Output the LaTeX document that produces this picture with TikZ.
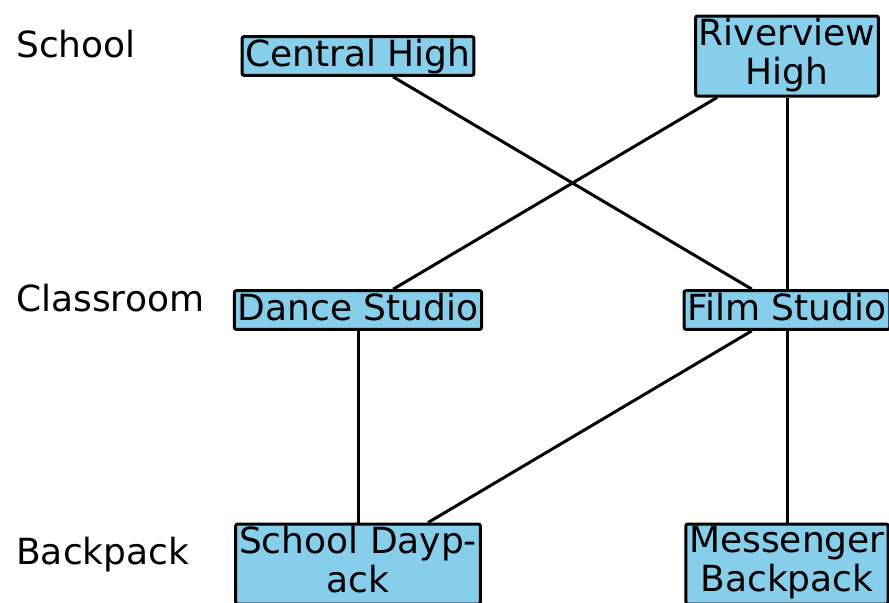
\documentclass[tikz,border=0pt]{standalone}
\usepackage{fontspec}
\setmainfont{DejaVu Sans}
\definecolor{skyblue}{HTML}{87CEEB}
\newcommand\boxstrut{\rule[-7pt]{0pt}{29pt}}
\begin{document}
\begin{tikzpicture}[x=.75pt,y=-.75pt, every node/.style={font=\fontsize{27}{29.25}\selectfont},
 box/.style={draw,line width=2.25pt,fill=skyblue,rounded corners=1.5pt,inner xsep=2.5pt,inner ysep=0pt,align=center,execute at begin node=\boxstrut,execute at end node=\boxstrut},
 tall/.style={box,minimum height=60pt},
 lvl/.style={anchor=base west,inner sep=0pt}, link/.style={line width=2.25pt}]
\useasboundingbox (0,0) rectangle (889,603);
\path (16,57) node[lvl] (school) {School} (16,311) node[lvl] (classroom) {Classroom} (16,564) node[lvl] (backpack) {Backpack};
\path (358,56) node[box] (ch) {Central High} (787,56) node[tall] (rh) {Riverview\\High}
 (358,310) node[box] (ds) {Dance Studio} (787,310) node[box] (fs) {Film Studio}
 (358,564) node[tall] (sd) {School Dayp-\\ack} (787,564) node[tall] (mb) {Messenger\\Backpack};
\foreach \a/\b in {ch/fs, rh/ds, rh/fs, ds/sd, fs/sd, fs/mb} \draw[link] (\a) -- (\b);
\end{tikzpicture}
\end{document}
